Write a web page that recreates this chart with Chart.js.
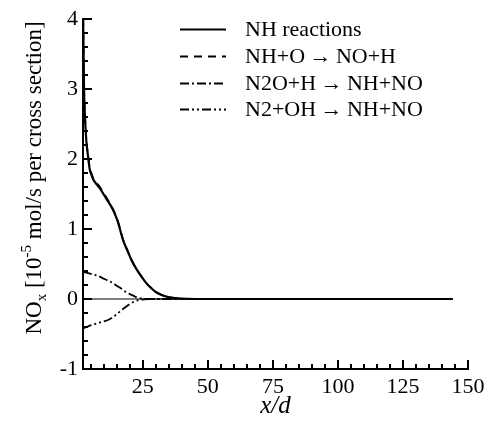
<!DOCTYPE html>
<html>
<head>
<meta charset="utf-8">
<script src="https://cdn.jsdelivr.net/npm/chart.js@4.4.0/dist/chart.umd.min.js"></script>
<style>
  html, body { margin: 0; padding: 0; background: #fff; }
  #wrap { width: 485px; height: 421px; }
</style>
</head>
<body>
<div id="wrap"><canvas id="myChart" width="485" height="421"></canvas></div>
<script>
// series labels
const seriesLabels = ['NH reactions', 'NH+O\u2009\u2192\u2009NO+H', 'N2O+H\u2009\u2192\u2009NH+NO', 'N2+OH\u2009\u2192\u2009NH+NO'];

// NH reactions (solid)
const xTotal = [2, 2.4, 2.65, 3.3, 3.9, 4.6, 5.2, 5.9, 7, 8.5, 9.7, 11, 12.9, 14.2, 15.5, 17.4, 19, 20.6, 22.5, 24.5, 26.5, 28.4, 30, 32.1, 34.5, 37.3, 40, 45, 144];
const yTotal = [4.2, 3.0, 2.7, 2.25, 2.05, 1.85, 1.78, 1.71, 1.65, 1.58, 1.51, 1.43, 1.32, 1.22, 1.09, 0.84, 0.70, 0.56, 0.43, 0.32, 0.22, 0.15, 0.10, 0.06, 0.03, 0.012, 0.004, 0, 0];

// NH+O -> NO+H (dashed)
const xNHO = [2, 2.4, 2.65, 3.3, 3.9, 4.6, 5.2, 5.9, 7, 8.5, 9.7, 11, 12.9, 14.2, 15.5, 17.4, 19, 20.6, 22.5, 24.5, 26.5, 28.4, 30, 32.1, 34.5, 37.3, 40, 45, 144];
const yNHO = [4.22, 3.02, 2.72, 2.27, 2.07, 1.87, 1.80, 1.73, 1.67, 1.60, 1.53, 1.45, 1.33, 1.23, 1.10, 0.85, 0.70, 0.56, 0.43, 0.32, 0.22, 0.15, 0.10, 0.06, 0.03, 0.012, 0.004, 0, 0];

// N2O+H -> NH+NO (dash-dot)
const xN2OH = [2, 4, 6, 7.8, 10, 12.9, 15, 16.7, 18.5, 20.6, 22, 23.2, 24.5, 26, 30, 144];
const yN2OH = [0.39, 0.37, 0.35, 0.33, 0.29, 0.24, 0.19, 0.15, 0.10, 0.06, 0.035, 0.018, 0.007, 0.002, 0, 0];

// N2+OH -> NH+NO (dash-dot-dot)
const xN2OHb = [2, 4, 6.5, 9, 11.6, 13.5, 15.5, 17.5, 19.3, 21, 22.5, 24, 25.5, 27, 30, 144];
const yN2OHb = [-0.42, -0.39, -0.36, -0.33, -0.30, -0.26, -0.20, -0.14, -0.09, -0.05, -0.025, -0.011, -0.004, -0.001, 0, 0];

// zero reference
const xZero = [2, 144];
const yZero = [0, 0];

// axes
const xTickLabels = [25, 50, 75, 100, 125, 150];
const yTickLabels = [-1, 0, 1, 2, 3, 4];

const FONT = '"Liberation Serif", "Times New Roman", serif';

function pts(xs, ys) {
    return xs.map((x, i) => ({ x: x, y: ys[i] }));
}

const dashes = [[], [8, 6], [9, 3, 2, 3], [9, 3, 2, 3, 2, 3]];
const widths = [2.2, 1.8, 1.8, 1.8];

// axis frame, inward ticks, axis titles and legend
const decor = {
    id: 'decor',
    afterDraw(chart) {
        const ctx = chart.ctx;
        const xs = chart.scales.x, ys = chart.scales.y;
        const bottom = Math.round(ys.getPixelForValue(-1));
        const top = Math.round(ys.getPixelForValue(4));
        const left = Math.round(xs.getPixelForValue(2));
        const right = Math.round(xs.getPixelForValue(150));
        ctx.save();
        ctx.setLineDash([]);
        ctx.fillStyle = '#000';

        // axes lines
        ctx.fillRect(left - 1, bottom - 1, right - left + 2, 2);
        ctx.fillRect(left - 1, top - 1, 2, bottom - top + 2);

        // x ticks
        for (let v = 5; v <= 150; v += 5) {
            const px = Math.round(xs.getPixelForValue(v));
            const len = (v % 25 === 0) ? 9 : 5;
            ctx.fillRect(px - 1, bottom - len, 2, len);
        }
        // y ticks
        for (let i = -5; i <= 20; i++) {
            const py = Math.round(ys.getPixelForValue(i / 5));
            const len = (i % 5 === 0) ? 9 : 5;
            ctx.fillRect(left, py - 1, len, 2);
        }

        // x title
        ctx.font = 'italic 25px ' + FONT;
        ctx.textAlign = 'center';
        ctx.textBaseline = 'alphabetic';
        ctx.fillText('x/d', (left + right) / 2, 413);

        // y title with sub/superscript
        ctx.save();
        ctx.translate(41, 178);
        ctx.rotate(-Math.PI / 2);
        const parts = [
            ['NO', 23, 0],
            ['x', 15, 5],
            [' [10', 23, 0],
            ['-5', 15, -10],
            [' mol/s per cross section]', 23, 0]
        ];
        let total = 0;
        parts.forEach(p => { ctx.font = p[1] + 'px ' + FONT; total += ctx.measureText(p[0]).width; });
        let cx = -total / 2;
        ctx.textAlign = 'left';
        parts.forEach(p => {
            ctx.font = p[1] + 'px ' + FONT;
            ctx.fillText(p[0], cx, p[2]);
            cx += ctx.measureText(p[0]).width;
        });
        ctx.restore();

        // legend
        const ly = [29, 56, 83, 109];
        ctx.font = '22px ' + FONT;
        ctx.textAlign = 'left';
        ctx.textBaseline = 'middle';
        ctx.strokeStyle = '#000';
        chart.data.datasets.slice(0, 4).forEach((ds, i) => {
            ctx.setLineDash(dashes[i]);
            ctx.lineWidth = widths[i];
            ctx.beginPath();
            ctx.moveTo(180, ly[i] + 0.5);
            ctx.lineTo(226, ly[i] + 0.5);
            ctx.stroke();
            ctx.setLineDash([]);
            ctx.fillText(ds.label, 245, ly[i] + 1);
        });
        ctx.restore();
    }
};

const datasets = [
    pts(xTotal, yTotal), pts(xNHO, yNHO), pts(xN2OH, yN2OH), pts(xN2OHb, yN2OHb)
].map((d, i) => ({
    label: seriesLabels[i],
    data: d,
    borderColor: '#000',
    borderWidth: widths[i],
    borderDash: dashes[i],
    pointRadius: 0,
    cubicInterpolationMode: 'monotone',
    fill: false
}));
datasets.push({
    label: 'zero',
    data: pts(xZero, yZero),
    borderColor: '#000',
    borderWidth: 1.2,
    pointRadius: 0
});

new Chart(document.getElementById('myChart'), {
    type: 'line',
    data: { datasets: datasets },
    options: {
        responsive: false,
        animation: false,
        layout: { padding: { left: 0, top: 19, right: 17, bottom: 0 } },
        plugins: { legend: { display: false }, tooltip: { enabled: false } },
        scales: {
            x: {
                type: 'linear',
                min: 2,
                max: 150,
                afterBuildTicks: s => { s.ticks = xTickLabels.map(v => ({ value: v })); },
                afterFit: s => { s.height = 52; s.paddingLeft = 0; s.paddingRight = 0; },
                grid: { display: false, drawTicks: false },
                border: { display: false },
                ticks: { color: '#000', font: { family: FONT, size: 22 }, padding: 5, maxRotation: 0, autoSkip: false }
            },
            y: {
                type: 'linear',
                min: -1,
                max: 4,
                afterBuildTicks: s => { s.ticks = yTickLabels.map(v => ({ value: v })); },
                afterFit: s => { s.width = 83; s.paddingTop = 0; s.paddingBottom = 0; },
                grid: { display: false, drawTicks: false },
                border: { display: false },
                ticks: { color: '#000', font: { family: FONT, size: 22 }, padding: 5 }
            }
        }
    },
    plugins: [decor]
});
</script>
</body>
</html>
